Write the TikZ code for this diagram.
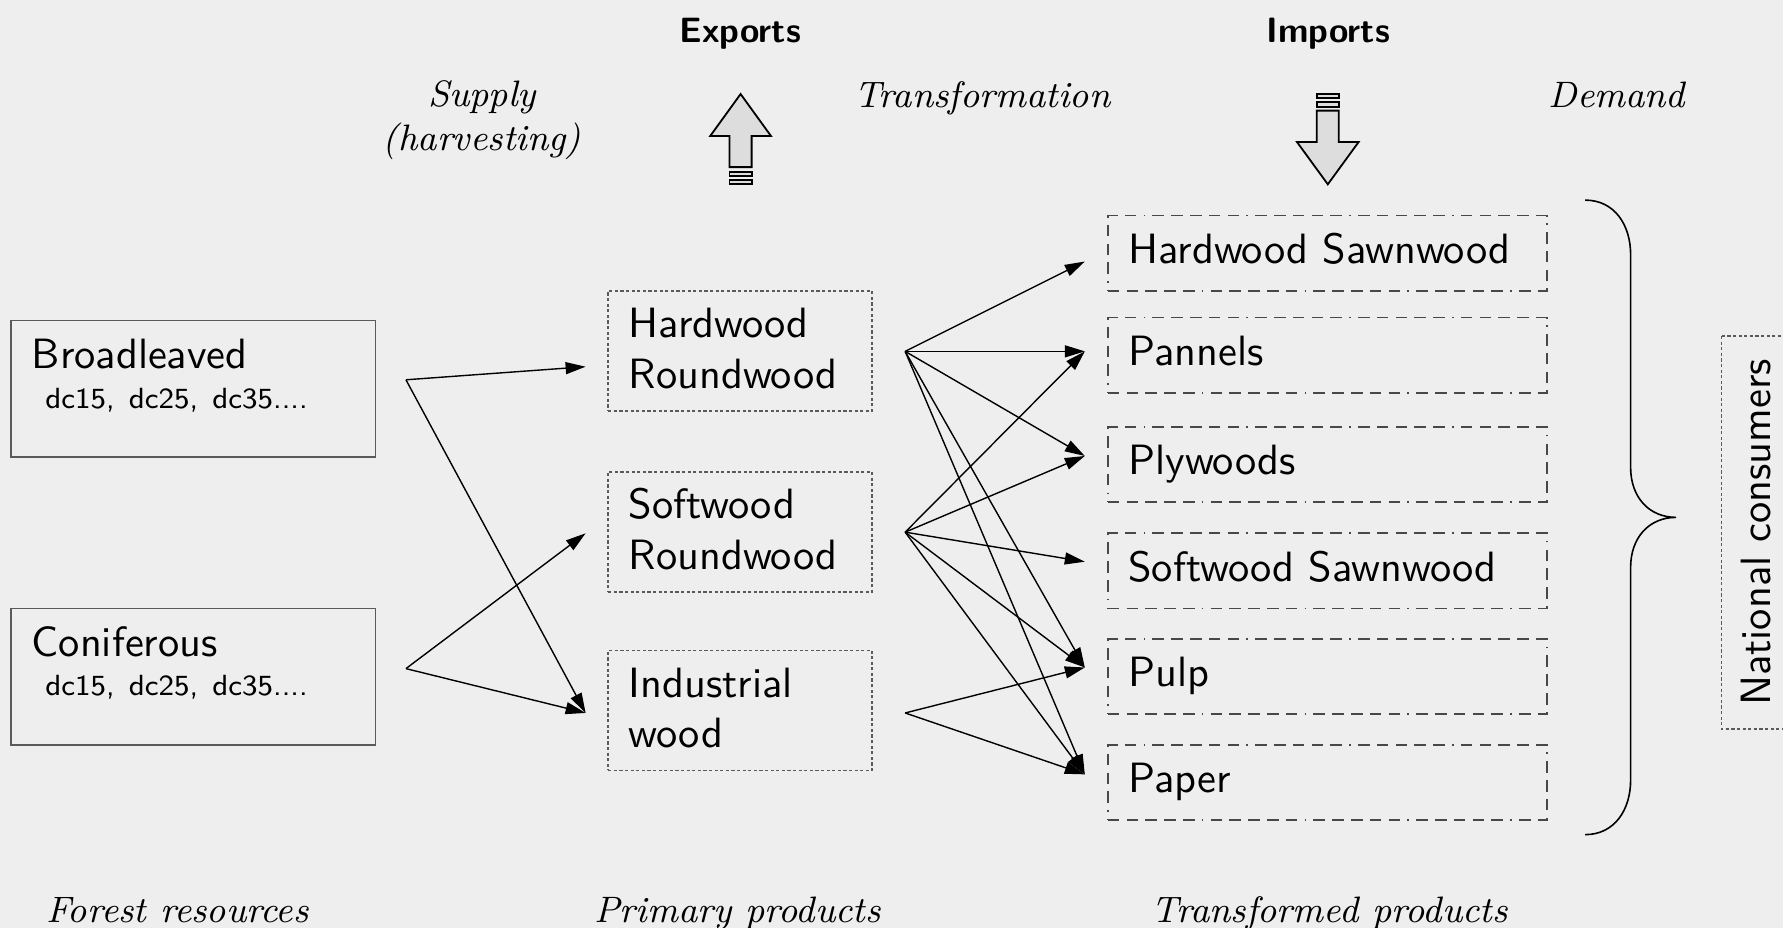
\documentclass[tikz,border=0pt]{standalone}
\usepackage{tikz}
\usetikzlibrary{arrows.meta}
\definecolor{bgcol}{RGB}{238,238,238}
\definecolor{boxline}{RGB}{90,90,90}
\definecolor{arrowfill}{RGB}{221,221,221}
\newcommand{\dcsize}{\fontsize{7.3}{9.8}\selectfont}

\begin{document}
\begin{tikzpicture}[x=0.01cm, y=-0.01cm,
    resbox/.style={draw=boxline, line width=0.4pt, inner xsep=0.18cm, inner ysep=0pt,
        text width=2.84cm, align=left, text height=0.425cm, text depth=0.775cm,
        font=\sffamily\fontsize{10.6}{9.8}\selectfont},
    primbox/.style={draw=boxline, line width=0.4pt, dash pattern=on 0.8pt off 0.6pt,
        inner xsep=0.18cm, inner ysep=0pt, text width=1.96cm, align=left,
        text height=0.41cm, text depth=0.645cm, font=\sffamily\fontsize{10.6}{12.7}\selectfont},
    prodbox/.style={draw=boxline!80!black, line width=0.4pt,
        dash pattern=on 2.9pt off 1.8pt on 2.9pt off 1.8pt on 2.9pt off 1.8pt on 2.9pt off 1.8pt on 2.9pt off 1.8pt on 0.4pt off 1.8pt,
        inner xsep=0.18cm, inner ysep=0pt, text width=3.5cm, align=left,
        text height=0.42cm, text depth=0.24cm, font=\sffamily\fontsize{10.6}{12.7}\selectfont},
    flow/.style={-{Triangle[length=5pt,width=3pt]}, line width=0.35pt},
    stage/.style={font=\itshape\fontsize{9.2}{11}\selectfont, align=center, anchor=base},
    trade/.style={font=\sffamily\bfseries\fontsize{8.8}{10.5}\selectfont, anchor=base},
    tradearrow/.style={fill=arrowfill, draw=black, line width=0.45pt}
]
    \fill[bgcol] (0,0) rectangle (1568,816);
    \useasboundingbox (0,0) rectangle (1568,816);

    % headings
    \node[trade] (exports) at (651,37.5) {Exports};
    \node[trade] (imports) at (1168,37.5) {Imports};
    \node[stage] (supply) at (424,132.5) {Supply\\(harvesting)};
    \node[stage] (transf) at (864,94.4) {Transformation};
    \node[stage] (demand) at (1422,94.4) {Demand};
    \node[stage] (forest) at (156,811.5) {Forest resources};
    \node[stage] (primary) at (648.5,811.5) {Primary products};
    \node[stage] (transformed) at (1169.5,811.5) {Transformed products};

    % export / import arrows
    \filldraw[tradearrow] (641.5,147) -- (641.5,119.6) -- (624.6,119.6) -- (651.3,82.7)
        -- (678,119.6) -- (661,119.6) -- (661,147) -- cycle;
    \filldraw[tradearrow] (641.5,151.3) rectangle (661,155);
    \filldraw[tradearrow] (641.5,158.3) rectangle (661,162.1);
    \filldraw[tradearrow] (1158,97.3) -- (1158,124.9) -- (1140.6,124.9) -- (1167.7,162.1)
        -- (1194.8,124.9) -- (1177.4,124.9) -- (1177.4,97.3) -- cycle;
    \filldraw[tradearrow] (1158,82.7) rectangle (1177.4,86.5);
    \filldraw[tradearrow] (1158,90) rectangle (1177.4,93.8);

    % forest resources
    \node[resbox] (broad) at (170,342) {Broadleaved\\{\dcsize\hspace*{3.4pt}dc15, dc25, dc35....}};
    \node[resbox] (conif) at (170,595) {Coniferous\\{\dcsize\hspace*{3.4pt}dc15, dc25, dc35....}};

    % primary products
    \node[primbox] (hardrw) at (651,308.75) {Hardwood\\Roundwood};
    \node[primbox] (softrw) at (651,467.75) {Softwood\\Roundwood};
    \node[primbox] (indw) at (651,624.75) {Industrial\\wood};

    % transformed products
    \node[prodbox] (hardsw) at (1167.4,222.7) {Hardwood Sawnwood};
    \node[prodbox] (pannels) at (1167.4,312.4) {Pannels};
    \node[prodbox] (plywoods) at (1167.4,408.7) {Plywoods};
    \node[prodbox] (softsw) at (1167.4,502) {Softwood Sawnwood};
    \node[prodbox] (pulp) at (1167.4,595) {Pulp};
    \node[prodbox] (paper) at (1167.4,688) {Paper};

    % demand
    \draw[line width=0.4pt] (1394,176) .. controls (1420,176) and (1434,198) .. (1434,224)
        -- (1434,411) .. controls (1434,437) and (1450,455) .. (1474,455)
        .. controls (1450,455) and (1434,473) .. (1434,499)
        -- (1434,686) .. controls (1434,712) and (1420,734) .. (1394,734);
    \node[draw=boxline, line width=0.4pt, dash pattern=on 0.8pt off 0.6pt, rotate=90,
        inner sep=0pt, minimum width=3.455cm, text height=0.43cm, text depth=0.24cm,
        font=\sffamily\fontsize{10.6}{12.7}\selectfont] (natcons) at (1547.3,468.3) {National consumers};

    % connection points
    \coordinate (broad-out) at (357,334);
    \coordinate (conif-out) at (357,588);
    \coordinate (hardrw-in) at (515,322.5);
    \coordinate (softrw-in) at (515,469);
    \coordinate (indw-in) at (515,627);
    \coordinate (hardrw-out) at (796,309);
    \coordinate (softrw-out) at (796,468);
    \coordinate (indw-out) at (796,627);
    \coordinate (hardsw-in) at (954,230);
    \coordinate (pannels-in) at (954,309);
    \coordinate (plywoods-in) at (954,401);
    \coordinate (softsw-in) at (954,494);
    \coordinate (pulp-in) at (954,587);
    \coordinate (paper-in) at (954,681);

    % harvesting
    \draw[flow] (broad-out) -- (hardrw-in);
    \draw[flow] (broad-out) -- (indw-in);
    \draw[flow] (conif-out) -- (softrw-in);
    \draw[flow] (conif-out) -- (indw-in);

    % transformation
    \draw[flow] (hardrw-out) -- (hardsw-in);
    \draw[flow] (hardrw-out) -- (pannels-in);
    \draw[flow] (hardrw-out) -- (plywoods-in);
    \draw[flow] (hardrw-out) -- (pulp-in);
    \draw[flow] (hardrw-out) -- (paper-in);
    \draw[flow] (softrw-out) -- (pannels-in);
    \draw[flow] (softrw-out) -- (plywoods-in);
    \draw[flow] (softrw-out) -- (softsw-in);
    \draw[flow] (softrw-out) -- (pulp-in);
    \draw[flow] (softrw-out) -- (paper-in);
    \draw[flow] (indw-out) -- (pulp-in);
    \draw[flow] (indw-out) -- (paper-in);
\end{tikzpicture}
\end{document}
